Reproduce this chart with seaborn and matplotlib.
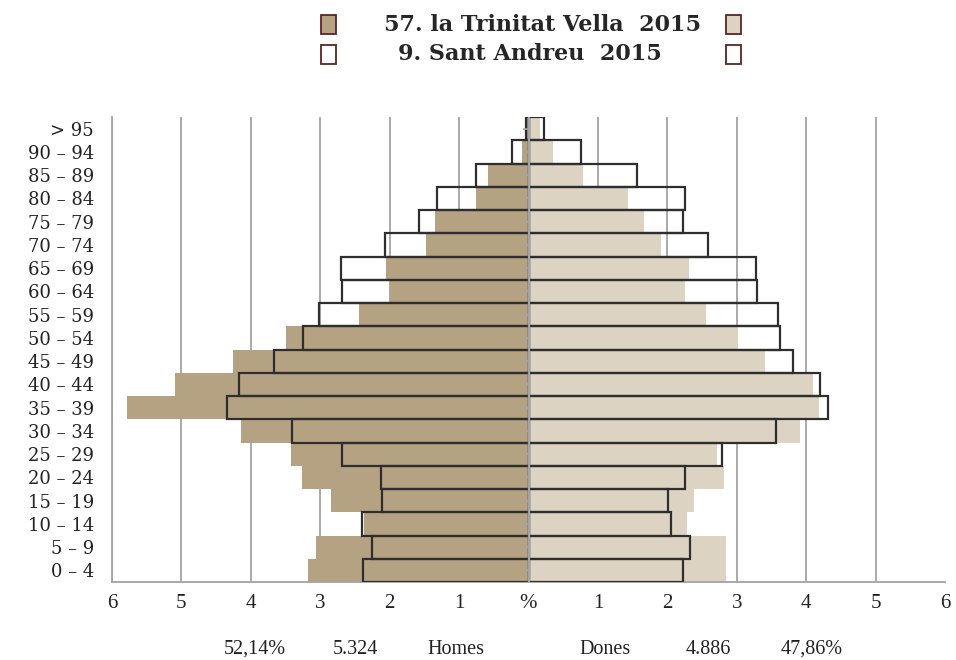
import numpy as np
import pandas as pd
import seaborn as sns
import matplotlib.pyplot as plt
import matplotlib.patches as mpatches

# ── Data (percent of population, top row = oldest) ────────────
ages = ["> 95", "90 – 94", "85 – 89", "80 – 84", "75 – 79", "70 – 74",
        "65 – 69", "60 – 64", "55 – 59", "50 – 54", "45 – 49", "40 – 44",
        "35 – 39", "30 – 34", "25 – 29", "20 – 24", "15 – 19", "10 – 14",
        "5 – 9", "0 – 4"]

# 57. la Trinitat Vella 2015 (filled bars)
trinitat_homes = [0.03, 0.09, 0.58, 0.76, 1.34, 1.47, 2.06, 1.99, 2.44, 3.49,
                  4.26, 5.09, 5.78, 4.14, 3.42, 3.26, 2.84, 2.37, 3.06, 3.17]
trinitat_dones = [0.17, 0.36, 0.79, 1.43, 1.66, 1.91, 2.31, 2.26, 2.56, 3.02,
                  3.41, 4.10, 4.18, 3.91, 2.71, 2.82, 2.38, 2.29, 2.84, 2.84]

# 9. Sant Andreu 2015 (outline bars)
andreu_homes = [0.03, 0.24, 0.75, 1.32, 1.58, 2.07, 2.70, 2.68, 3.02, 3.25,
                3.66, 4.17, 4.35, 3.40, 2.68, 2.12, 2.11, 2.40, 2.25, 2.38]
andreu_dones = [0.22, 0.75, 1.56, 2.25, 2.23, 2.59, 3.28, 3.29, 3.59, 3.62,
                3.81, 4.20, 4.31, 3.57, 2.79, 2.25, 2.01, 2.06, 2.32, 2.22]

x_ticks = list(range(-6, 7))
x_labels = ["6", "5", "4", "3", "2", "1", "%", "1", "2", "3", "4", "5", "6"]

footer = [("52,14%", 255), ("5.324", 355), ("Homes", 456),
          ("Dones", 605), ("4.886", 708), ("47,86%", 812)]

COL_H = "#b5a282"
COL_D = "#ddd3c2"
OUTLINE = "#2e2e2e"
GRID = "#a3a3a3"

df = pd.DataFrame({
    "age": ages,
    "th": -np.array(trinitat_homes),
    "td": trinitat_dones,
    "ah": -np.array(andreu_homes),
    "ad": andreu_dones,
})

sns.set_style("white")
W, H = 956, 660
fig = plt.figure(figsize=(W / 100, H / 100), dpi=100)
ax = fig.add_axes([112 / W, 1 - 582 / H, (945 - 112) / W, (582 - 117) / H])

# filled bars: la Trinitat Vella
sns.barplot(data=df, x="th", y="age", color=COL_H, saturation=1, width=1.0,
            linewidth=0, ax=ax, zorder=2)
sns.barplot(data=df, x="td", y="age", color=COL_D, saturation=1, width=1.0,
            linewidth=0, ax=ax, zorder=2)
# outline bars: Sant Andreu
sns.barplot(data=df, x="ah", y="age", color=OUTLINE, fill=False, width=1.0,
            linewidth=1.6, ax=ax, zorder=3)
sns.barplot(data=df, x="ad", y="age", color=OUTLINE, fill=False, width=1.0,
            linewidth=1.6, ax=ax, zorder=3)

ax.set_xlim(-6, 6)
ax.set_ylim(len(ages) - 0.5, -0.5)
ax.set_xticks(x_ticks)
ax.set_xticklabels(x_labels, family="Liberation Serif", fontsize=15)
ax.set_xlabel("")
ax.set_ylabel("")
ax.tick_params(axis="x", length=0, pad=9, colors="#222222")
ax.tick_params(axis="y", length=0, pad=13, labelsize=13, colors="#222222")
for lab in ax.get_yticklabels():
    lab.set_family("DejaVu Serif")

# vertical gridlines behind the bars
ax.grid(axis="x", color=GRID, linewidth=1.3, zorder=0)
ax.grid(axis="y", visible=False)
ax.set_axisbelow(True)
ax.xaxis.get_gridlines()[-1].set_visible(False)

# centre axis with its small row ticks
ax.axvline(0, color=GRID, linewidth=1.6, zorder=4)
ax.plot(np.full(len(ages), -0.04), ages, ls="", marker="_", ms=5,
        mew=1.2, color=GRID, zorder=4)

for side in ["top", "right"]:
    ax.spines[side].set_visible(False)
for side in ["left", "bottom"]:
    ax.spines[side].set_color(GRID)
    ax.spines[side].set_linewidth(1.3)

# ── Legend header ─────────────────────────────────────────────
title_kw = dict(family="DejaVu Serif", fontweight="bold", fontsize=16,
                color="#262626", ha="center", va="center")
fig.text(543 / W, 1 - 25 / H, "57. la Trinitat Vella  2015", **title_kw)
fig.text(530 / W, 1 - 54 / H, "9. Sant Andreu  2015", **title_kw)

sq_w, sq_h = 15 / W, 19 / H
for x0, y0, fc in [(321, 34, COL_H), (726, 34, COL_D),
                   (321, 64, "white"), (726, 64, "white")]:
    fig.add_artist(mpatches.Rectangle((x0 / W, 1 - y0 / H), sq_w, sq_h,
                                      transform=fig.transFigure,
                                      facecolor=fc, edgecolor="#5a2424",
                                      linewidth=1.3))

# ── Footer totals ─────────────────────────────────────────────
for txt, xp in footer:
    fig.text(xp / W, 1 - 649 / H, txt, family="Liberation Serif",
             fontsize=14.5, color="#222222", ha="center", va="center")

fig.savefig("out.png", dpi=100)
